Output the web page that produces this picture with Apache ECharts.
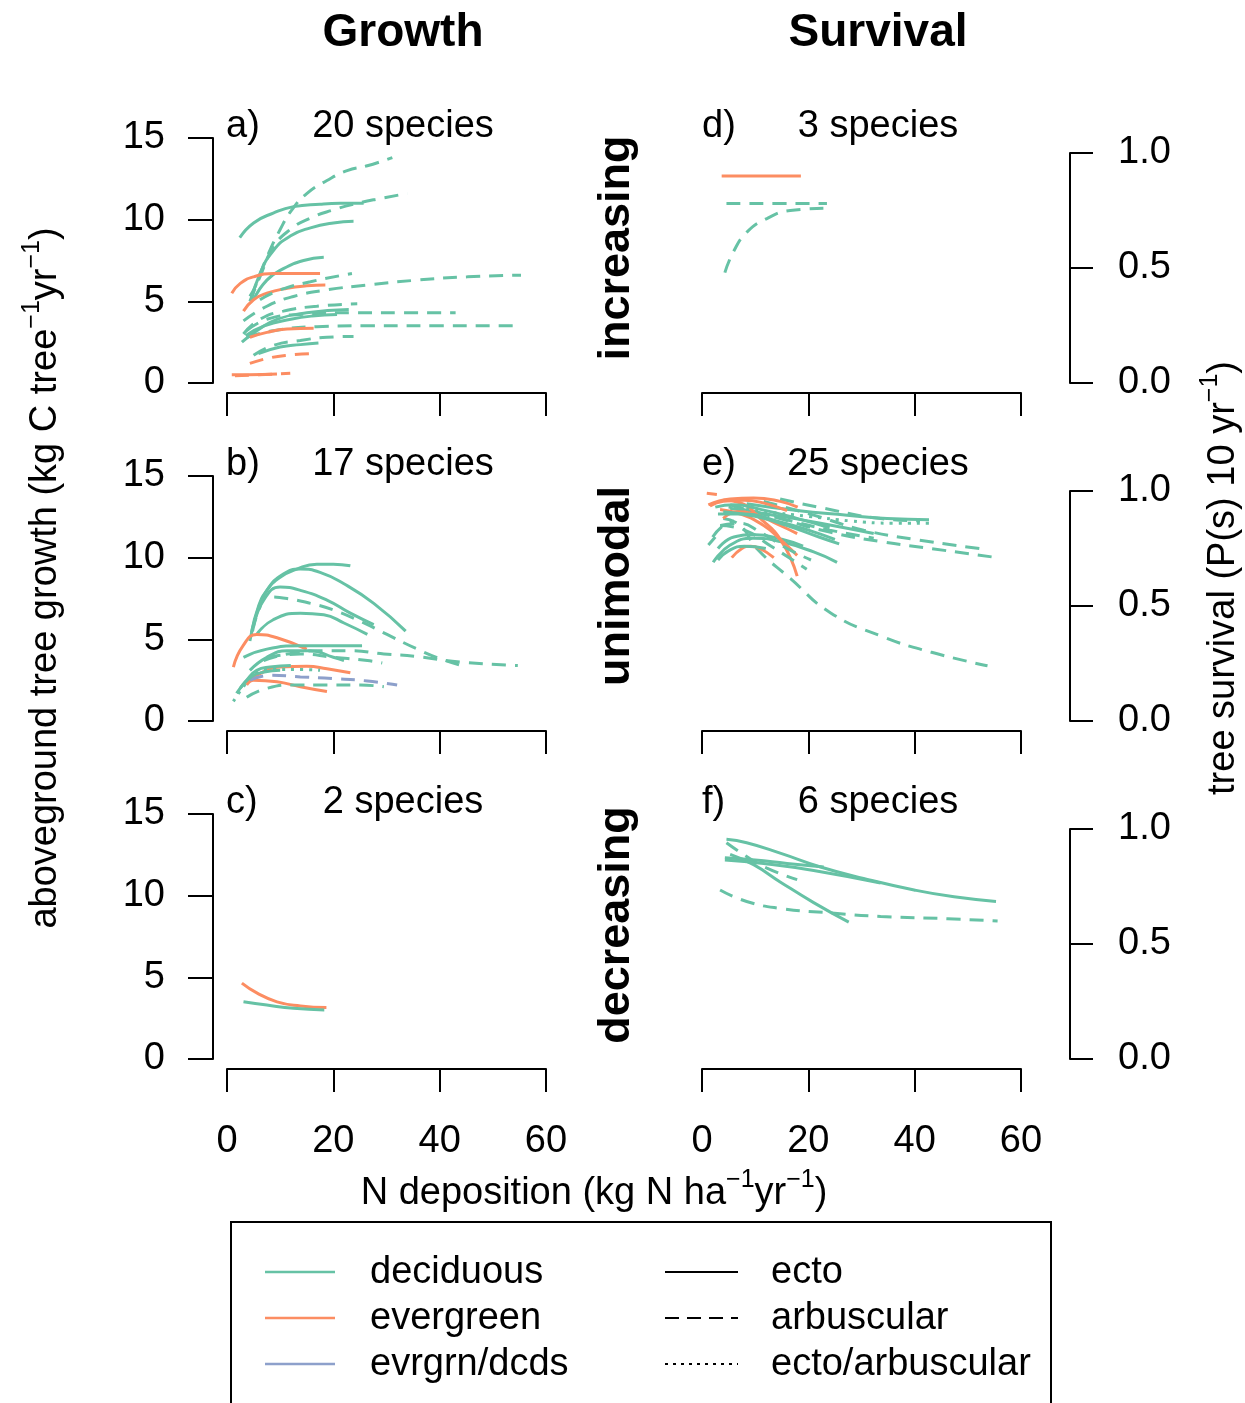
<!DOCTYPE html>
<html><head><meta charset="utf-8">
<script src="https://cdn.jsdelivr.net/npm/echarts@6/dist/echarts.min.js"></script>
<style>html,body{margin:0;padding:0;background:#fff}#c{width:1245px;height:1403px}</style>
</head><body><div id="c"></div>
<script>
// ---------- data ----------
const xTicks = [0, 20, 40, 60];
const growthTicks = [0, 5, 10, 15];
const survivalTicks = [0.0, 0.5, 1.0];
const columnTitles = ['Growth', 'Survival'];
const trendLabels = ['increasing', 'unimodal', 'decreasing'];
const panelLetters = ['a)', 'b)', 'c)', 'd)', 'e)', 'f)'];
const speciesCounts = [20, 17, 2, 3, 25, 6];
const leafGroups = ['deciduous', 'evergreen', 'evrgrn/dcds'];
const mycoTypes = ['ecto', 'arbuscular', 'ecto/arbuscular'];

// each curve: [leaf group, mycorrhizal type, [[N deposition, value], ...]]
const growthIncreasing = [
  ['dec','ecto',[[2.4,8.9],[5,9.8],[8.7,10.4],[12.5,10.8],[17.5,10.95],[21.3,11.0],[25.7,11.0]]],
  ['dec','arb',[[4.3,5.3],[5.3,5.9],[7.5,7.7],[10,9.4],[12.2,10.6],[15,11.6],[18.8,12.4],[22.6,13.0],[26.4,13.3],[31.1,13.8]]],
  ['dec','arb',[[4.3,5.0],[6.2,6.5],[8.7,8.3],[11.9,9.4],[15.7,10.1],[20,10.6],[24.5,11.0],[28.9,11.3],[33.9,11.6]]],
  ['dec','ecto',[[4.6,5.1],[6.2,6.7],[8.7,8.1],[11.9,9.0],[15.7,9.5],[20,9.8],[23.8,9.9]]],
  ['dec','ecto',[[5,5.1],[7.5,6.3],[10.6,7.0],[14.4,7.5],[18.2,7.7]]],
  ['evg','ecto',[[0.9,5.5],[2.5,6.1],[5,6.5],[8.7,6.7],[13.8,6.7],[17.5,6.7]]],
  ['evg','ecto',[[3.1,4.4],[5,5.1],[7.5,5.5],[11.3,5.8],[15,5.95],[18.5,6.0]]],
  ['dec','arb',[[6.2,5.1],[10,5.7],[15.7,6.2],[23.5,6.7]]],
  ['dec','arb',[[3.1,3.8],[7.5,4.7],[12.5,5.3],[18.8,5.7],[26.4,6.0],[35.8,6.3],[45.2,6.5],[55.3,6.6]]],
  ['dec','arb',[[3.7,3.2],[7.5,3.9],[13.8,4.2],[23.2,4.3],[32.6,4.3],[43,4.3]]],
  ['dec','arb',[[3.7,2.8],[8.7,3.2],[16.9,3.45],[26.4,3.5],[38.9,3.5],[54,3.5]]],
  ['dec','arb',[[3.1,3.0],[6.2,3.9],[10.6,4.4],[16.9,4.7],[24.5,4.85]]],
  ['dec','ecto',[[2.8,2.5],[5.6,3.2],[9.4,3.9],[15,4.3],[22.9,4.5]]],
  ['dec','ecto',[[3.5,2.9],[7,3.5],[12,3.9],[16,4.1],[20.7,4.2]]],
  ['evg','ecto',[[4.3,2.8],[7.5,3.1],[11.3,3.3],[16.3,3.35]]],
  ['dec','arb',[[5,1.7],[8.7,2.3],[13.8,2.6],[18.8,2.8],[23.8,2.85]]],
  ['dec','ecto',[[5.9,1.8],[10,2.2],[13.8,2.35],[17.2,2.45]]],
  ['evg','arb',[[4.3,1.2],[7.5,1.5],[11.3,1.7],[15.7,1.8]]],
  ['evg','ecto',[[0.9,0.5],[4,0.5],[9.4,0.55]]],
  ['evg','arb',[[1.5,0.45],[6,0.5],[11.9,0.6]]]
];
const growthUnimodal = [
  ['dec','ecto',[[4.6,5.4],[5.9,7.0],[7.5,8.0],[10,8.8],[13.1,9.3],[16.9,9.6],[20,9.6],[23.2,9.5]]],
  ['dec','ecto',[[4.3,4.9],[5.6,6.6],[7.5,8.0],[10.6,9.0],[13.8,9.3],[17.5,9.1],[22,8.4],[27.6,7.2],[33.6,5.5]]],
  ['dec','ecto',[[5,5.8],[6.9,7.4],[10,8.2],[13.8,8.0],[18.8,7.4],[23.2,6.6],[27.6,5.9]]],
  ['dec','arb',[[4.8,5.5],[6,6.8],[7.5,7.6],[11.3,7.5],[15.7,7.2],[20,6.8],[25.1,6.1],[30.1,5.3],[35.8,4.4],[40.2,3.8],[44,3.4]]],
  ['dec','ecto',[[5.6,5.3],[8.7,6.2],[13.8,6.6],[18.2,6.5],[22,6.0],[26.4,5.3]]],
  ['evg','ecto',[[1.2,3.3],[3,4.6],[5.6,5.3],[9.4,5.1],[15,4.4]]],
  ['dec','ecto',[[3.1,3.9],[7.5,4.4],[13.8,4.6],[20,4.6],[25.4,4.6]]],
  ['dec','ecto',[[4.3,3.1],[7.5,3.9],[11.3,4.3],[15.7,4.3],[20,3.9],[22,3.7]]],
  ['dec','arb',[[6.9,3.7],[11.3,4.1],[16.9,4.3],[23.2,4.3],[29.5,4.1],[35.8,3.95],[44,3.6],[54.7,3.4]]],
  ['dec','arb',[[7.5,3.9],[13.8,4.1],[20,3.9],[26.4,3.7],[29.2,3.55]]],
  ['evg','ecto',[[3.7,2.3],[6.2,2.9],[10,3.3],[15,3.35],[18.8,3.2],[23.2,2.95]]],
  ['evg','ecto',[[3.7,2.2],[5,2.5],[9.4,2.4],[13.8,2.1],[18.8,1.8]]],
  ['mix','arb',[[4.3,2.5],[8.1,2.8],[13.8,2.7],[20,2.6],[26.4,2.45],[32,2.2]]],
  ['dec','both',[[1.2,1.2],[3.1,2.1],[5,2.8],[8.7,3.15],[13.8,3.15],[17.5,3.1]]],
  ['dec','arb',[[3.7,1.45],[7.5,2.0],[12.5,2.2],[18.8,2.2],[25.1,2.2],[29.5,2.1]]],
  ['dec','ecto',[[1.8,1.7],[3.7,2.5],[5.6,3.1],[8.1,3.3],[12,3.4]]],
  ['dec','ecto',[[2.5,2.0],[4.5,2.7],[7,3.0],[10,3.1]]]
];
const growthDecreasing = [
  ['evg','ecto',[[2.8,4.65],[5.6,4.05],[9.4,3.5],[13.8,3.25],[18.7,3.15]]],
  ['dec','ecto',[[3.1,3.5],[7.5,3.3],[12.5,3.1],[18.3,3.0]]]
];
const survivalIncreasing = [
  ['evg','ecto',[[3.7,0.90],[18.6,0.90]]],
  ['dec','arb',[[4.6,0.78],[23.5,0.78]]],
  ['dec','arb',[[4.3,0.48],[5.9,0.57],[8.4,0.655],[12.2,0.715],[16.6,0.75],[23.5,0.76]]]
];
const survivalUnimodal = [
  ['dec','arb',[[4,0.88],[7.2,0.85],[10.3,0.75],[16.6,0.62],[24.2,0.47],[33.6,0.37],[43,0.30],[53.7,0.24]]],
  ['dec','arb',[[5.3,0.94],[14.7,0.88],[24.2,0.82],[33.6,0.78],[43,0.75],[55.6,0.71]]],
  ['dec','arb',[[11.6,0.955],[21,0.895],[30.4,0.83],[39.9,0.79],[53.7,0.745]]],
  ['dec','ecto',[[8.4,0.945],[17.9,0.915],[27.3,0.895],[34.8,0.88],[42.7,0.875]]],
  ['dec','arb',[[14.7,0.965],[22.9,0.925],[33.6,0.88],[41,0.87]]],
  ['dec','ecto',[[5.3,0.925],[13.5,0.895],[22.3,0.86],[32.3,0.815]]],
  ['dec','arb',[[6,0.93],[15,0.88],[24,0.83],[32.3,0.795]]],
  ['dec','ecto',[[2.1,0.69],[5.3,0.765],[9.7,0.795],[14.7,0.78],[21,0.735],[25.4,0.69]]],
  ['dec','ecto',[[3,0.75],[6,0.8],[10,0.81],[15,0.79],[19,0.76]]],
  ['evg','arb',[[0.9,0.99],[2.8,0.985]]],
  ['evg','ecto',[[1.2,0.94],[5.3,0.965],[9.7,0.97],[14.7,0.955],[18,0.93]]],
  ['evg','ecto',[[3.4,0.92],[7.2,0.9],[11.6,0.85],[14.7,0.79],[17.9,0.72]]],
  ['evg','ecto',[[4,0.96],[7,0.95],[11,0.88],[15,0.78],[17.9,0.63]]],
  ['evg','ecto',[[5.6,0.71],[7.5,0.75],[9.1,0.76],[10.9,0.75],[13.5,0.71]]],
  ['evg','ecto',[[4,0.88],[6.5,0.91],[9.7,0.9],[14.7,0.85],[17.9,0.815]]],
  ['dec','arb',[[1.2,0.765],[2.5,0.8]]],
  ['dec','arb',[[3.4,0.85],[8,0.83],[13,0.76],[19.7,0.66]]],
  ['dec','ecto',[[3,0.9],[8,0.9],[14,0.87],[20,0.83],[25,0.79]]],
  ['dec','ecto',[[4,0.91],[10,0.89],[16,0.85],[22,0.8],[25.8,0.77]]],
  ['dec','arb',[[3.5,0.85],[7,0.86],[11,0.82],[16,0.75],[20.5,0.7]]],
  ['dec','ecto',[[2.5,0.93],[6,0.94],[11,0.92],[18,0.88],[24,0.84]]],
  ['dec','both',[[5,0.93],[12,0.91],[20,0.89],[28,0.87],[36,0.86],[42.7,0.86]]],
  ['dec','arb',[[2,0.8],[4,0.85],[6,0.87]]],
  ['dec','ecto',[[3,0.7],[5,0.74],[8,0.76],[12,0.75]]],
  ['evg','ecto',[[1.5,0.935],[4,0.955],[8,0.96],[12,0.945],[16,0.915]]]
];
const survivalDecreasing = [
  ['dec','ecto',[[4.6,0.955],[8.4,0.94],[14.7,0.895],[22.3,0.835],[30.4,0.785],[39.9,0.735],[47.4,0.705],[55.3,0.685]]],
  ['dec','ecto',[[4.3,0.875],[10,0.865],[16,0.85],[22.9,0.835]]],
  ['dec','ecto',[[5.3,0.89],[9.7,0.845],[14.7,0.77],[21,0.68],[27.6,0.595]]],
  ['dec','arb',[[4.6,0.94],[8.4,0.88],[12.2,0.83],[17.9,0.78]]],
  ['dec','arb',[[3.4,0.735],[8.4,0.685],[14.7,0.655],[24.2,0.635],[33.6,0.62],[46.2,0.61],[55.6,0.6]]],
  ['dec','ecto',[[4.3,0.865],[11.6,0.85],[21,0.82],[33.6,0.765]]]
];

// ---------- styling / layout ----------
const FONT = '"Liberation Sans", Arial, Helvetica, sans-serif';
const FS = 38;
const colorOf = { dec: '#66C2A5', evg: '#FC8D62', mix: '#8DA0CB' };
const dashOf = { ecto: 'solid', arb: [14, 9], both: [3, 6] };
const LW = 3;

const panels = [growthIncreasing, growthUnimodal, growthDecreasing,
                survivalIncreasing, survivalUnimodal, survivalDecreasing];
const leftTops = [138, 476, 814];
const rightTops = [153, 491, 829];

const grids = [], xAxes = [], yAxes = [], series = [];
for (let i = 0; i < 6; i++) {
  const left = i < 3;
  const row = i % 3;
  grids.push(left
    ? { left: 227, width: 319, top: leftTops[row], height: 245 }
    : { left: 702, width: 319, top: rightTops[row], height: 230 });
  xAxes.push({
    type: 'value', gridIndex: i, min: xTicks[0], max: xTicks[xTicks.length - 1],
    interval: xTicks[1] - xTicks[0], offset: 10,
    axisLine: { show: true, onZero: false, lineStyle: { color: '#000', width: 2 } },
    axisTick: { show: true, length: 23, lineStyle: { color: '#000', width: 2 } },
    axisLabel: { show: row === 2, margin: 54, fontSize: FS, color: '#000', fontFamily: FONT,
                 showMinLabel: true, showMaxLabel: true },
    splitLine: { show: false }
  });
  const ticks = left ? growthTicks : survivalTicks;
  yAxes.push({
    type: 'value', gridIndex: i, position: left ? 'left' : 'right',
    min: ticks[0], max: ticks[ticks.length - 1], interval: ticks[1] - ticks[0],
    offset: left ? 14 : 49,
    axisLine: { show: true, onZero: false, lineStyle: { color: '#000', width: 2 } },
    axisTick: { show: true, length: left ? 25 : 23, lineStyle: { color: '#000', width: 2 } },
    axisLabel: { show: true, margin: 48, fontSize: FS, color: '#000', fontFamily: FONT,
                 showMinLabel: true, showMaxLabel: true,
                 formatter: left ? (v => String(v)) : (v => v.toFixed(1)) },
    splitLine: { show: false }
  });
  panels[i].forEach(c => {
    series.push({
      type: 'line', xAxisIndex: i, yAxisIndex: i, data: c[2],
      symbol: 'none', showSymbol: false, smooth: 0.5,
      silent: true, animation: false,
      lineStyle: { color: colorOf[c[0]], width: LW, type: dashOf[c[1]], cap: 'butt' }
    });
  });
}

// ---------- text & legend ----------
const g = [];
const txt = (x, y, text, o = {}) => g.push({
  type: 'text', x, y, rotation: o.rot || 0, silent: true,
  style: Object.assign({ text, fontSize: FS, fontFamily: FONT, fill: '#000',
    align: o.align || 'center', verticalAlign: 'middle', fontWeight: o.bold ? 'bold' : 'normal' }, o.style || {})
});
txt(403, 33, columnTitles[0], { bold: true, style: { fontSize: 46 } });
txt(878, 33, columnTitles[1], { bold: true, style: { fontSize: 46 } });
const rowY = [127, 465, 803];
const trendY = [248, 586, 925];
for (let r = 0; r < 3; r++) {
  txt(226, rowY[r], panelLetters[r], { align: 'left' });
  txt(403, rowY[r], speciesCounts[r] + ' species');
  txt(702, rowY[r], panelLetters[r + 3], { align: 'left' });
  txt(878, rowY[r], speciesCounts[r + 3] + ' species');
  txt(617, trendY[r], trendLabels[r], { bold: true, rot: Math.PI / 2, style: { fontSize: 45 } });
}
const rich = { sup: { fontSize: 25, fontFamily: FONT, verticalAlign: 'top', lineHeight: 22, fill: '#000' },
               n: { fontSize: FS, fontFamily: FONT, lineHeight: 52, fill: '#000' } };
txt(594, 1194, '{n|N deposition (kg N ha}{sup|\u22121}{n|yr}{sup|\u22121}{n|)}', { style: { rich } });
txt(46, 578, '{n|aboveground tree growth (kg C tree}{sup|\u22121}{n|yr}{sup|\u22121}{n|)}', { rot: Math.PI / 2, style: { rich } });
txt(1224, 578, '{n|tree survival (P(s) 10 yr}{sup|\u22121}{n|)}', { rot: Math.PI / 2, style: { rich } });

// legend box
g.push({ type: 'rect', silent: true, shape: { x: 231, y: 1222, width: 820, height: 220 },
  style: { fill: 'none', stroke: '#000', lineWidth: 2 } });
const legRows = [1273, 1319, 1365];
const groupKeys = ['dec', 'evg', 'mix'];
const mycoKeys = ['ecto', 'arb', 'both'];
for (let k = 0; k < 3; k++) {
  g.push({ type: 'line', silent: true, shape: { x1: 265, y1: legRows[k] - 1, x2: 335, y2: legRows[k] - 1 },
    style: { stroke: colorOf[groupKeys[k]], lineWidth: 2.5 } });
  txt(370, legRows[k], leafGroups[k], { align: 'left' });
  g.push({ type: 'line', silent: true, shape: { x1: 665, y1: legRows[k] - 1, x2: 738, y2: legRows[k] - 1 },
    style: { stroke: '#000', lineWidth: 2, lineDash: k === 0 ? null : (k === 1 ? [14, 8] : [3, 5]) } });
  txt(771, legRows[k], mycoTypes[k], { align: 'left' });
}

const chart = echarts.init(document.getElementById('c'), null, { renderer: 'canvas' });
chart.setOption({
  backgroundColor: '#fff', animation: false,
  grid: grids, xAxis: xAxes, yAxis: yAxes, series, graphic: g
});
</script></body></html>
